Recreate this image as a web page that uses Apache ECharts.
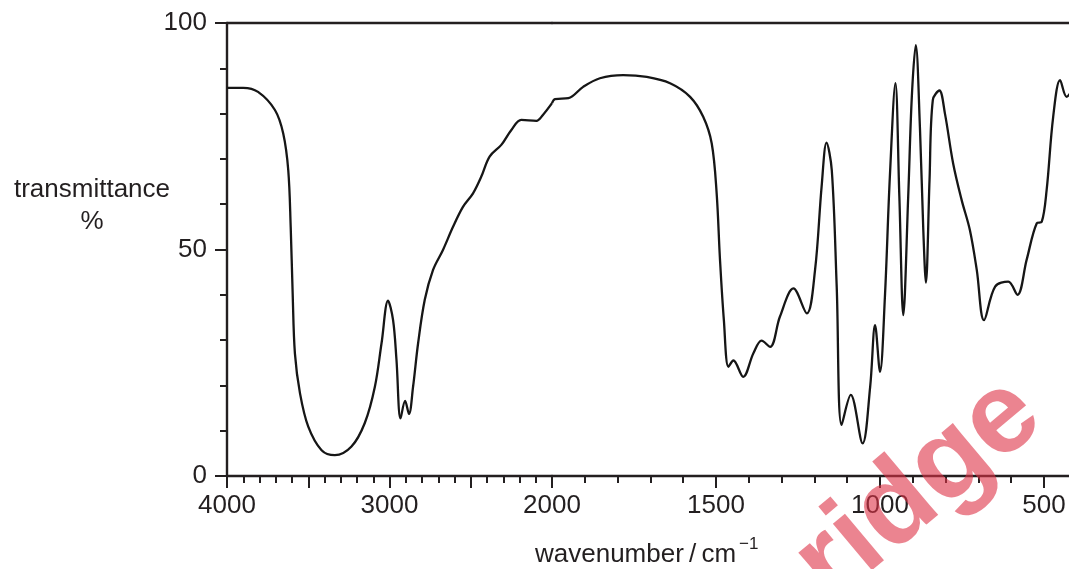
<!DOCTYPE html>
<html>
<head>
<meta charset="utf-8">
<script src="https://cdn.jsdelivr.net/npm/echarts@6/dist/echarts.min.js"></script>
<style>
html,body{margin:0;padding:0;background:#fff;}
#chart{width:1069px;height:569px;}
</style>
</head>
<body>
<div id="chart"></div>
<script>
// ---- data (wavenumber / cm-1, transmittance %) ----
// 4000-2000 cm-1 section (compressed scale)
const wavenumbersHigh = [4000, 3900, 3809, 3705, 3654, 3623, 3608, 3596, 3582, 3551, 3500, 3418, 3336, 3234, 3152, 3090, 3049, 3009, 2978, 2957, 2932, 2904, 2880, 2855, 2824, 2783, 2732, 2671, 2609, 2548, 2486, 2435, 2384, 2312, 2250, 2189, 2096, 2056, 2000];
const transmittanceHigh = [85.7, 85.7, 84.8, 80.8, 75.6, 67.5, 55.0, 40.4, 27.0, 18.3, 10.9, 5.7, 4.6, 6.5, 11.7, 19.7, 29.3, 38.7, 34.4, 25.6, 12.7, 16.6, 13.7, 19.7, 29.3, 38.9, 45.5, 49.9, 55.0, 59.4, 62.4, 66.1, 70.5, 73.1, 76.4, 78.6, 78.4, 79.7, 82.3];
// 2000-420 cm-1 section (expanded scale)
const wavenumbersLow = [2000, 1991, 1950, 1905, 1854, 1783, 1711, 1640, 1579, 1539, 1513, 1498, 1488, 1476, 1462, 1447, 1417, 1386, 1361, 1335, 1305, 1264, 1223, 1198, 1178, 1163, 1147, 1132, 1117, 1089, 1053, 1030, 1015, 1000, 985, 970, 953, 941, 929, 914, 903, 891, 878, 868, 860, 849, 839, 819, 802, 777, 751, 726, 705, 683, 649, 609, 581, 553, 522, 507, 492, 472, 451, 431, 415];
const transmittanceLow = [82.3, 83.2, 83.4, 85.9, 87.8, 88.5, 88.1, 86.7, 83.7, 79.3, 73.4, 62.4, 48.0, 34.4, 24.1, 25.5, 21.9, 27.1, 29.9, 28.5, 35.2, 41.4, 35.9, 45.5, 63.9, 73.6, 67.5, 41.8, 11.3, 17.9, 7.2, 19.7, 33.3, 23.0, 39.6, 66.0, 86.7, 61.7, 35.5, 61.7, 83.7, 95.1, 76.4, 54.3, 42.7, 65.3, 83.0, 85.1, 80.0, 69.0, 60.9, 54.3, 45.5, 34.4, 41.8, 42.9, 40.0, 47.7, 55.8, 56.1, 63.1, 79.3, 87.4, 83.7, 85.0];
// tick labels
const xTickLabels = [4000, 3000, 2000, 1500, 1000, 500];
const yTickLabels = [0, 50, 100];
const xAxisTitle = 'wavenumber\u2009/\u2009cm';
const xAxisTitleSup = '\u22121';
const yAxisTitle = 'transmittance';
const yAxisUnit = '%';

const ink = '#231f20';
const font = '"Liberation Sans", Arial, Helvetica, sans-serif';

function xAxisCfg(gridIndex, min, max, hide2000) {
  return {
    type: 'value', gridIndex, min, max, inverse: true, interval: 500,
    position: 'bottom',
    axisLine: { show: true, onZero: false, lineStyle: { color: ink, width: 2.4 } },
    axisTick: { show: true, length: 12, lineStyle: { color: ink, width: 2 } },
    minorTick: { show: true, splitNumber: 5, length: 7, lineStyle: { color: ink, width: 2 } },
    splitLine: { show: false },
    minorSplitLine: { show: false },
    axisLabel: {
      show: true, margin: 17, color: ink, fontSize: 26, fontFamily: font,
      showMinLabel: true, showMaxLabel: true,
      formatter: function (v) {
        if (hide2000 && v === 2000) return '';
        return xTickLabels.indexOf(v) >= 0 ? String(v) : '';
      }
    }
  };
}
function topAxisCfg(gridIndex, min, max) {
  return {
    type: 'value', gridIndex, min, max, inverse: true, position: 'top',
    axisLine: { show: true, onZero: false, lineStyle: { color: ink, width: 2.4 } },
    axisTick: { show: false }, axisLabel: { show: false }, splitLine: { show: false }
  };
}

const chart = echarts.init(document.getElementById('chart'), null, { renderer: 'canvas' });
chart.setOption({
  animation: false,
  backgroundColor: '#fff',
  grid: [
    { left: 227, top: 23, width: 325, height: 453, containLabel: false, outerBoundsMode: 'none' },
    { left: 552, top: 23, width: 656, height: 453, containLabel: false, outerBoundsMode: 'none' }
  ],
  xAxis: [
    xAxisCfg(0, 2000, 4000, false),
    xAxisCfg(1, 0, 2000, true),
    topAxisCfg(0, 2000, 4000),
    topAxisCfg(1, 0, 2000)
  ],
  yAxis: [
    {
      type: 'value', gridIndex: 0, min: 0, max: 100, interval: 50,
      axisLine: { show: true, onZero: false, lineStyle: { color: ink, width: 2.4 } },
      axisTick: { show: true, length: 12, lineStyle: { color: ink, width: 2 } },
      minorTick: { show: true, splitNumber: 5, length: 7, lineStyle: { color: ink, width: 2 } },
      splitLine: { show: false },
      axisLabel: {
        margin: 20, color: ink, fontSize: 26, fontFamily: font,
        formatter: function (v) { return yTickLabels.indexOf(v) >= 0 ? String(v) : ''; }
      }
    },
    { type: 'value', gridIndex: 1, min: 0, max: 100, show: false }
  ],
  series: [
    {
      type: 'line', xAxisIndex: 0, yAxisIndex: 0,
      data: wavenumbersHigh.map((w, i) => [w, transmittanceHigh[i]]),
      smooth: 0.35, showSymbol: false, symbol: 'none',
      lineStyle: { color: '#161616', width: 2.3 }
    },
    {
      type: 'line', xAxisIndex: 1, yAxisIndex: 1,
      data: wavenumbersLow.map((w, i) => [w, transmittanceLow[i]]),
      smooth: 0.35, showSymbol: false, symbol: 'none',
      lineStyle: { color: '#161616', width: 2.3 }
    }
  ],
  graphic: [
    { type: 'text', x: 92, y: 190, style: { text: yAxisTitle, font: '26px ' + font, fill: ink, align: 'center', verticalAlign: 'middle' } },
    { type: 'text', x: 92, y: 222, style: { text: yAxisUnit, font: '26px ' + font, fill: ink, align: 'center', verticalAlign: 'middle' } },
    { type: 'text', x: 535, y: 555, style: { text: xAxisTitle, font: '26px ' + font, fill: ink, align: 'left', verticalAlign: 'middle' } },
    { type: 'text', x: 739, y: 544, style: { text: xAxisTitleSup, font: '17px ' + font, fill: ink, align: 'left', verticalAlign: 'middle' } },
    { type: 'text', x: 811, y: 580, rotation: 40 * Math.PI / 180, z: 100,
      style: { text: 'ridge', font: 'bold 115px ' + font, fill: 'rgba(222,50,70,0.6)', align: 'left', verticalAlign: 'middle' } }
  ]
});
</script>
</body>
</html>
